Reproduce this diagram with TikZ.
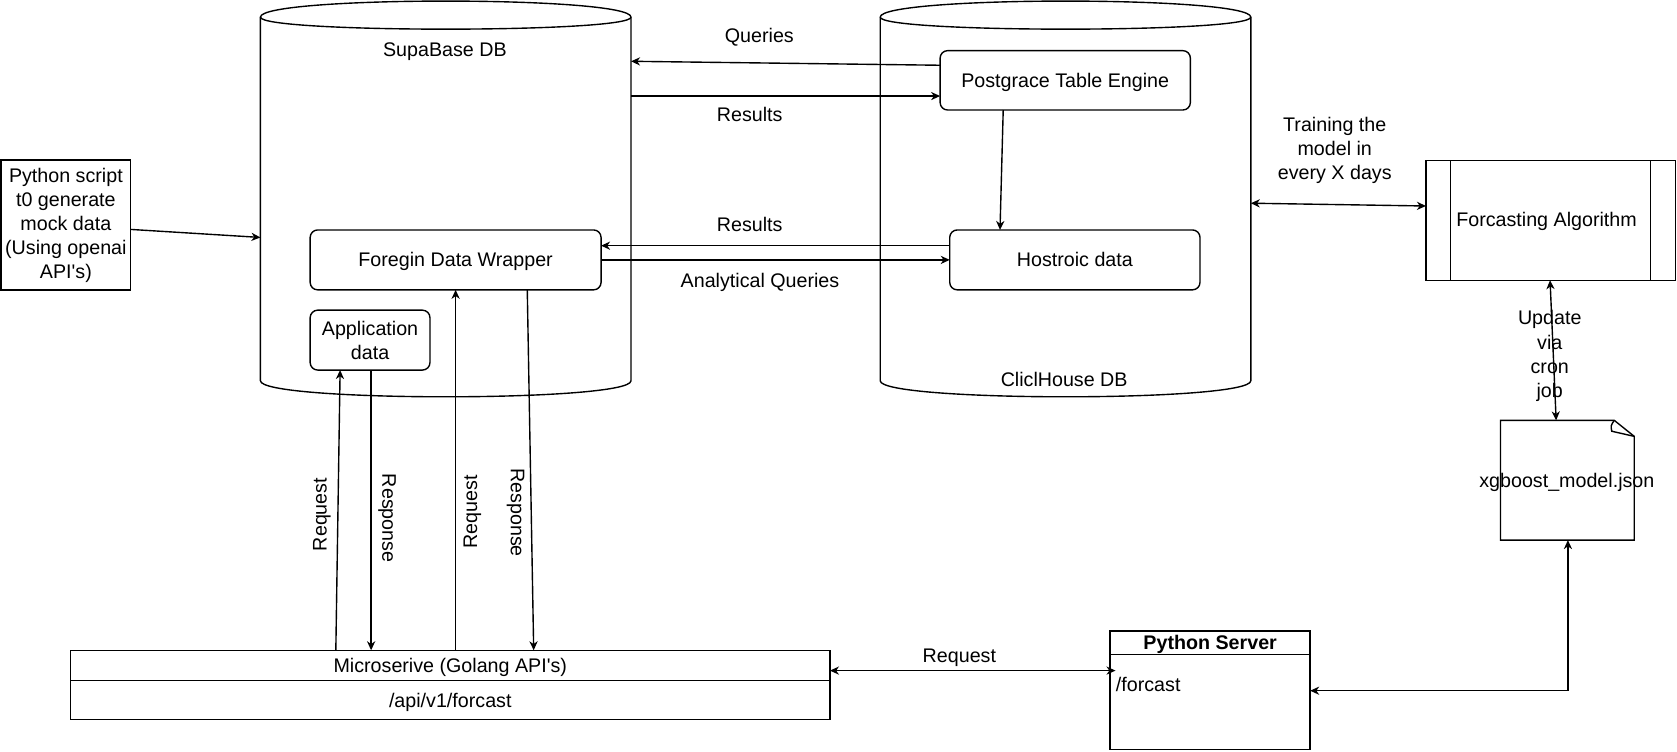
\documentclass[tikz,border=0pt]{standalone}
\usepackage{fontspec}
\setmainfont{Liberation Sans}
\usetikzlibrary{arrows.meta,calc}
\newcommand\fs{\fontsize{9.2}{11.25}\selectfont}
\newcommand\apos{\textquotesingle}
\tikzset{
  ln/.style={line width=0.65pt},
  box/.style={draw, ln, font=\fs, align=center, inner sep=0pt, outer sep=0pt},
  rbox/.style={box, rounded corners=3.5pt},
  ghost/.style={draw=none, inner sep=0pt, outer sep=0pt},
  lbl/.style={font=\fs, align=center, inner sep=0pt},
  sl/.style={text height=8.33pt, text depth=1.95pt},
  tip/.tip={Stealth[length=4.2pt,width=3.8pt,inset=1.3pt]},
  arr/.style={ln, -tip},
  darr/.style={ln, tip-tip},
}
\begin{document}
\begin{tikzpicture}[x=0.5pt,y=-0.5pt]
\useasboundingbox (0,0) rectangle (1568,703);
\fill[white] (0,0) rectangle (1568,703);

% cylinders
\draw[ln] (243.5,16) .. controls (243.5,-4) and (590,-4) .. (590,16) -- (590,356)
  .. controls (590,376) and (243.5,376) .. (243.5,356) -- cycle;
\draw[ln] (243.5,16) .. controls (243.5,31) and (590,31) .. (590,16);
\node[ghost, minimum width=173.25pt, minimum height=185pt] (supa) at (416.75,186) {};
\node[lbl, sl] (supal) at (416,46.7) {SupaBase DB};

\draw[ln] (823,16) .. controls (823,-4) and (1169.5,-4) .. (1169.5,16) -- (1169.5,356)
  .. controls (1169.5,376) and (823,376) .. (823,356) -- cycle;
\draw[ln] (823,16) .. controls (823,31) and (1169.5,31) .. (1169.5,16);
\node[ghost, minimum width=173.25pt, minimum height=185pt] (ch) at (996.25,186) {};
\node[lbl, sl] (chl) at (995,355) {CliclHouse DB};

% boxes
\node[rbox, sl, minimum width=117pt, minimum height=27.75pt] (pg) at (996,75.1) {Postgrace Table Engine};
\node[rbox, sl, minimum width=117pt, minimum height=28pt] (hist) at (1005,243) {Hostroic data};
\node[rbox, sl, minimum width=136pt, minimum height=28pt] (fdw) at (426,243) {Foregin Data Wrapper};
\node[rbox, minimum width=56pt, minimum height=28pt] (app) at (346,318) {Application\\data};
\node[box, minimum width=60.6pt, minimum height=60.75pt] (py) at (61.6,210.5)
  {Python script\\t0 generate\\mock data\\(Using openai\\API\apos s)};

\node[box, minimum width=116.75pt, minimum height=56pt] (fa) at (1450,206) {};
\draw[ln] ([xshift=11.5pt]fa.north west) -- ([xshift=11.5pt]fa.south west);
\draw[ln] ([xshift=-11.7pt]fa.north east) -- ([xshift=-11.7pt]fa.south east);
\node[lbl, sl] (fal) at (1446,205.7) {Forcasting Algorithm};

\node[ghost, minimum width=62.5pt, minimum height=56pt] (xgb) at (1465.5,449) {};
\draw[ln] (xgb.north west) -- ($(xgb.north east)+(-9.35pt,0)$) -- ($(xgb.north east)+(0,-7.5pt)$)
  -- (xgb.south east) -- (xgb.south west) -- cycle;
\draw[ln] ($(xgb.north east)+(-9.35pt,0)$) .. controls ($(xgb.north east)+(-11pt,-2.5pt)$) ..
  ($(xgb.north east)+(-10.5pt,-5.1pt)$) -- ($(xgb.north east)+(0,-7.5pt)$);
\node[lbl, sl] (xgbl) at (1465,449.5) {xgboost\_model.json};

\node[box, sl, minimum width=355pt, minimum height=14.25pt] (ms) at (421,622.25) {Microserive (Golang API\apos s)};
\node[box, sl, minimum width=355pt, minimum height=18.25pt] (msb) at (421,654.75) {/api/v1/forcast};

\node[box, sl, minimum width=93.5pt, minimum height=11pt, font=\fs\bfseries] (ps) at (1131.5,601) {Python Server};
\node[box, minimum width=93.5pt, minimum height=44.5pt] (psb) at (1131.5,656.5) {};
\node[lbl, sl, anchor=west] (fcl) at (1043,640.5) {/forcast};

% connectors
\draw[arr] (py.east |- 0,214.5) -- (supa.west |- 0,222);
\draw[arr] (pg.west |- 0,61) -- (supa.east |- 0,57.3);
\draw[arr] (supa.east |- 0,89.8) -- (pg.west |- 0,89.8);
\draw[arr] (pg.south -| 938,0) -- (hist.north -| 935,0);
\draw[arr] (hist.west |- 0,229.7) -- (fdw.east |- 0,229.7);
\draw[arr] (fdw.east) -- (hist.west);
\draw[darr] (ch.east |- 0,190) -- (fa.west |- 0,192.6);
\draw[darr] (fa.south -| 1449.3,0) -- (xgb.north -| 1455,0);
\draw[darr] (psb.east |- 0,645.8) -| (xgb.south -| 1466,0);
\draw[darr] (ms.east |- 0,627) -- (fcl.west |- 0,627);
\draw[arr] (ms.north -| 314,0) -- (app.south -| 318,0);
\draw[arr] (app.south -| 347,0) -- (ms.north -| 347,0);
\draw[arr] (ms.north -| 426,0) -- (fdw.south -| 426,0);
\draw[arr] (fdw.south -| 493,0) -- (ms.north -| 499,0);

% labels
\node[lbl, sl] (lq) at (710,33) {Queries};
\node[lbl, sl] (lr1) at (701,107.5) {Results};
\node[lbl, sl] (lr2) at (701,210.4) {Results};
\node[lbl, sl] (laq) at (710.6,262) {Analytical Queries};
\node[lbl] (ltr) at (1248,140.3) {Training the\\model in\\every X days};
\node[lbl] (lup) at (1449,332.8) {Update\\via\\cron\\job};
\node[lbl, sl] (lreq) at (897,612.6) {Request};
\node[lbl, sl, rotate=90] (lrq1) at (299,481) {Request};
\node[lbl, sl, rotate=-90] (lrs1) at (364,484.5) {Response};
\node[lbl, sl, rotate=90] (lrq2) at (439.7,478.4) {Request};
\node[lbl, sl, rotate=-90] (lrs2) at (484,479.2) {Response};
\end{tikzpicture}
\end{document}
